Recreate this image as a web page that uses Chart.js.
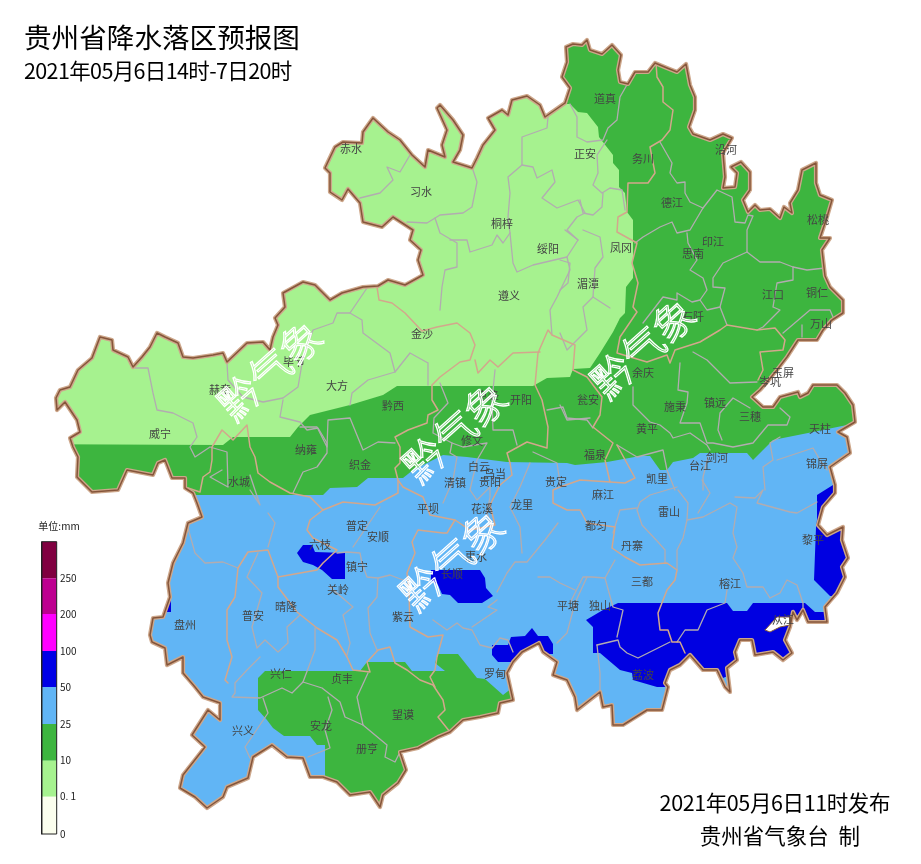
<!DOCTYPE html>
<html><head><meta charset="utf-8"><style>html,body{margin:0;background:#fff}canvas{display:block}</style>
<script src="https://cdn.jsdelivr.net/npm/chart.js@4"></script></head><body><canvas id="c" width="921" height="864"></canvas>
<script>
const provinceOutline=[[565,103],[570,88],[562,77],[567,62],[566,47],[573,44],[582,45],[587,40],[590,50],[602,54],[612,45],[621,55],[618,70],[620,82],[628,84],[635,72],[648,72],[655,63],[667,68],[677,72],[686,64],[690,85],[695,97],[695,110],[689,127],[693,134],[710,140],[723,134],[732,138],[723,153],[725,177],[723,188],[735,187],[737,173],[731,167],[741,162],[750,172],[750,190],[743,200],[748,212],[755,205],[760,210],[770,209],[780,218],[784,207],[792,213],[790,203],[798,190],[802,170],[816,163],[816,183],[820,195],[832,200],[827,217],[820,238],[830,238],[822,250],[825,276],[830,287],[843,300],[843,313],[832,320],[823,330],[817,340],[798,340],[787,357],[777,370],[767,382],[760,390],[752,397],[763,407],[773,407],[780,397],[798,392],[800,397],[808,393],[813,385],[837,385],[845,393],[853,405],[855,422],[838,432],[847,437],[850,453],[830,467],[835,485],[835,493],[823,507],[818,525],[827,535],[843,527],[842,540],[848,558],[842,567],[845,577],[837,593],[825,607],[827,622],[808,622],[803,610],[797,620],[793,612],[790,627],[785,640],[792,653],[783,660],[773,652],[755,655],[752,640],[740,640],[735,652],[737,660],[727,668],[730,692],[725,687],[717,670],[703,670],[690,655],[680,665],[670,670],[665,683],[668,687],[662,710],[647,710],[623,725],[613,725],[612,705],[603,707],[600,692],[577,710],[575,697],[567,680],[553,675],[557,662],[543,652],[539,643],[522,652],[513,662],[507,673],[513,700],[500,703],[498,713],[480,717],[463,720],[450,732],[438,737],[418,748],[400,752],[406,770],[398,783],[383,795],[380,807],[370,792],[350,795],[337,782],[323,777],[310,777],[303,758],[287,757],[272,745],[253,757],[248,778],[227,787],[223,797],[207,808],[195,797],[180,788],[183,775],[205,747],[192,735],[208,710],[220,720],[220,703],[203,697],[195,687],[183,673],[183,657],[167,665],[165,648],[152,642],[150,635],[153,618],[163,617],[170,597],[168,583],[173,563],[183,543],[188,523],[202,517],[197,503],[193,493],[185,488],[185,478],[172,478],[165,460],[158,463],[153,475],[127,470],[118,490],[92,492],[77,477],[78,457],[73,447],[70,438],[80,432],[77,420],[65,402],[57,410],[56,398],[60,390],[70,387],[78,370],[92,358],[100,337],[112,340],[113,350],[128,357],[133,367],[142,357],[150,347],[157,333],[165,337],[178,343],[183,357],[193,358],[213,355],[223,353],[227,362],[247,343],[263,342],[270,350],[273,337],[278,325],[275,318],[285,307],[283,293],[303,282],[315,285],[330,300],[342,293],[363,287],[378,286],[388,280],[405,285],[423,275],[418,260],[421,250],[410,240],[413,230],[393,217],[382,227],[363,222],[360,203],[348,189],[342,200],[330,192],[330,173],[325,168],[335,147],[343,142],[362,143],[363,132],[373,118],[388,132],[400,140],[412,155],[425,167],[428,150],[445,157],[442,145],[447,130],[437,108],[440,105],[453,120],[463,135],[460,150],[453,162],[472,168],[477,158],[483,145],[495,130],[488,118],[502,110],[508,115],[512,100],[527,96],[540,105],[545,117],[565,103]];
const congjiangHole=[[765,630],[777,617],[790,617],[790,625],[780,627],[770,632],[765,630]];
const lightGreenZone=[[20,444],[223,445],[233,437],[290,437],[298,427],[310,415],[350,405],[383,395],[397,386],[533,386],[547,378],[570,377],[573,369],[590,368],[600,353],[613,332],[620,318],[625,313],[626,287],[633,278],[633,220],[627,212],[625,193],[619,187],[619,170],[613,163],[613,155],[599,137],[598,127],[587,113],[578,112],[570,104],[560,104],[500,40],[20,40]];
const blueZone=[[100,495],[323,495],[330,488],[357,487],[368,478],[403,478],[413,470],[443,455],[467,457],[507,462],[567,463],[575,465],[607,462],[640,456],[650,456],[660,470],[667,470],[673,462],[693,458],[700,453],[747,453],[753,460],[763,450],[773,440],[813,432],[847,425],[900,420],[900,860],[100,860]];
const southGreenZone=[[258,678],[265,671],[360,671],[367,662],[405,662],[412,671],[445,671],[435,663],[438,654],[458,654],[477,678],[485,679],[503,695],[512,688],[530,720],[420,830],[325,830],[325,745],[317,745],[310,736],[284,736],[273,728],[267,720],[258,710]];
const heavyZones=[
[[160,595],[171,595],[171,612],[160,612]],
[[297,553],[303,545],[312,545],[315,552],[345,553],[345,579],[332,579],[322,570],[313,565],[303,562]],
[[431,570],[480,570],[485,578],[486,588],[493,596],[482,603],[458,603],[450,595],[442,594],[438,585],[431,580]],
[[492,645],[508,645],[511,637],[525,636],[532,628],[538,636],[548,636],[553,644],[553,654],[543,654],[513,662],[498,662],[492,655]],
[[586,620],[603,610],[618,603],[727,603],[733,611],[747,611],[753,603],[805,603],[815,612],[827,612],[827,640],[800,670],[730,675],[723,678],[673,683],[665,687],[657,687],[633,680],[632,673],[620,670],[600,653],[593,653],[593,627]],
[[833,485],[817,495],[817,520],[816,527],[814,580],[830,596],[860,596],[860,485]]];
const cityBoundaries=[
[[377,287],[379,300],[392,303],[405,313],[422,331],[437,327],[457,323],[470,333],[475,345],[470,360],[460,362],[440,377],[432,385],[432,400],[438,410],[428,415],[427,423],[408,430],[395,437],[400,447],[400,463],[395,468],[398,480],[398,493],[375,505],[343,502],[323,510],[310,520],[307,530],[313,538],[337,550],[323,563],[317,570],[278,577],[268,550],[248,552],[238,568],[235,597],[227,610],[227,640],[232,657],[225,680],[228,683]],
[[278,577],[278,587],[297,612],[317,628],[337,640],[347,657],[353,670],[370,672],[367,662],[378,650],[390,647],[395,663],[407,670],[420,680],[433,685],[443,700],[445,710],[438,717],[450,732]],
[[398,480],[403,487],[423,497],[430,515],[455,520],[447,533],[443,533],[418,530],[412,542],[415,553],[407,573],[409,590],[410,627],[428,637],[443,635],[437,657],[435,670],[430,677],[435,687]],
[[510,463],[507,453],[527,442],[547,448],[548,427],[542,400],[535,385],[538,353],[548,330],[552,335],[575,345],[573,370]],
[[540,352],[513,353],[498,367],[490,360],[478,373],[475,360]],
[[656,63],[657,77],[663,87],[663,102],[673,110],[670,130],[662,140],[650,147],[655,173],[648,183],[628,183],[627,212],[618,217],[617,232],[637,243],[632,263],[638,283],[633,307],[637,312],[620,337],[617,353],[647,362],[667,355],[670,363],[675,350],[700,342],[720,330],[727,325],[757,330],[775,328],[785,340],[783,350],[760,352],[763,370],[758,380]],
[[573,370],[587,377],[602,397],[600,415],[593,427],[613,443],[605,460],[610,482],[580,480],[560,487],[553,490],[553,503],[567,510],[580,510],[587,523],[615,527],[612,548],[625,557],[640,565],[667,563],[677,570],[675,580],[667,590],[658,613],[660,630],[668,630],[672,642],[680,642],[685,653]],
[[610,482],[625,483],[635,478],[617,445]],
[[510,463],[512,475],[500,485],[490,505],[495,525],[470,530],[455,520]],
[[188,488],[200,492],[203,477],[210,472],[212,460],[212,447],[222,430],[233,440],[247,425],[250,447],[255,457],[258,473],[270,482],[290,493],[310,497],[323,510]]];
const countyBoundaries=[
[[135,368],[148,368],[153,393],[157,410],[173,413],[193,423],[197,437],[190,447],[195,457],[210,447],[227,452],[228,487],[210,477],[222,470]],
[[250,475],[260,505],[250,490]],
[[227,363],[228,380],[243,397],[263,402],[283,398],[298,387],[303,358],[313,330],[333,323],[337,313],[350,313],[367,288]],
[[283,400],[280,417],[300,422],[307,430],[318,428],[327,443],[327,453],[317,467],[303,472],[293,493]],
[[300,427],[317,427],[327,447],[328,420],[350,418],[363,450],[378,442],[395,443]],
[[350,405],[352,393],[368,380],[395,372],[410,353],[428,363],[428,385]],
[[395,372],[390,353],[363,333],[362,320],[350,313]],
[[440,383],[448,403],[434,418],[433,433],[452,443],[450,453],[457,457],[453,480],[443,503]],
[[452,443],[463,447],[487,443],[477,460],[473,477],[470,490],[477,500],[490,487],[490,497],[487,513],[493,530]],
[[495,370],[492,400],[493,430],[513,430],[517,445]],
[[547,410],[563,407],[567,418],[587,420],[593,428]],
[[533,452],[557,463],[560,483]],[[530,463],[520,487],[510,507],[520,527],[522,553]],
[[410,155],[400,172],[387,167],[393,180],[380,193],[360,198]],
[[473,170],[477,182],[472,207],[463,213],[440,215],[427,223],[407,222]],
[[435,218],[440,233],[457,243],[457,267],[445,270],[442,287],[440,310]],
[[450,240],[467,240],[470,252],[492,245],[497,235],[503,243],[510,233],[508,217],[510,193],[508,177],[522,165],[522,137],[547,128],[548,117]],
[[510,233],[513,263],[517,272],[533,265],[567,257],[578,240],[567,230],[577,217],[585,213],[578,200],[557,208],[542,198],[555,182],[552,170],[537,178],[533,167],[522,165]],
[[567,257],[570,270],[557,297],[550,310],[552,335]],
[[570,104],[577,117],[577,137],[587,142],[603,140],[608,128],[617,120],[620,97],[628,83]],
[[607,140],[597,155],[598,173],[593,185],[602,193],[610,188],[622,190],[625,210]],
[[603,193],[602,207],[593,215],[583,213],[580,200]],
[[583,230],[600,237],[603,257],[595,268],[593,297],[610,308]],[[593,297],[583,307],[587,330],[567,350],[560,333]],
[[565,230],[578,240]],[[560,260],[570,263],[568,283],[560,290]],
[[660,142],[672,163],[670,173],[677,183],[685,182],[685,193],[690,202],[703,208],[717,190],[732,197],[735,222],[745,223],[748,215],[753,216],[747,230],[747,252],[760,262],[780,262],[793,267],[807,270],[825,268]],
[[703,208],[690,230],[677,233],[672,222],[660,227],[643,237],[635,243]],
[[687,233],[688,243],[697,260],[690,270],[703,278],[707,290],[700,300],[692,302],[677,293],[677,300],[663,297],[643,323]],
[[747,252],[723,263],[713,278],[713,287],[725,288],[720,307],[707,310],[700,300]],
[[793,267],[793,280],[777,283],[773,307],[780,310],[763,327],[757,330]],
[[720,307],[727,325]],[[783,333],[810,310],[830,310],[833,317]],[[802,325],[802,337]],
[[693,352],[707,360],[730,383],[757,382]],
[[680,363],[678,390],[688,392],[687,403],[680,423],[700,423],[707,443],[713,443],[733,447],[753,443],[768,425],[787,425],[790,417],[780,408]],
[[750,408],[733,398],[720,413],[718,430],[722,440]],
[[633,387],[633,405],[650,422],[660,425],[670,433],[673,438],[690,433],[707,445],[710,450]],
[[617,445],[637,457],[663,450],[667,470],[675,490]],[[560,405],[567,420],[590,418]],
[[780,437],[770,443],[773,460],[763,467],[765,490]],[[777,460],[813,448],[820,460],[827,470]],
[[703,490],[703,477],[708,457]],
[[677,487],[650,495],[640,502],[637,510],[642,525],[658,542],[665,550],[665,563]],
[[637,508],[620,510],[613,533]],
[[678,490],[688,503],[687,520],[683,538],[677,550],[677,570]],
[[687,520],[703,517],[730,503],[737,507],[733,533],[737,547],[733,558],[743,573],[747,587],[763,587],[770,598],[780,593],[787,580],[797,585],[803,603],[803,610]],
[[702,480],[710,493],[698,513]],[[735,497],[755,498],[763,490],[757,503],[790,512],[797,513],[817,502]],
[[727,590],[725,603],[707,610],[698,630],[685,630],[677,642]],
[[617,637],[623,610],[613,607],[605,578],[592,577],[583,577],[575,593],[570,603]],[[605,578],[615,560]],
[[597,645],[618,640],[620,647],[627,653],[638,658],[660,647],[670,642]],[[597,645],[600,673],[600,690]],
[[188,528],[195,553],[205,563],[223,562],[238,568]],[[268,513],[275,523],[268,547]],
[[258,553],[247,577],[262,593],[252,627],[257,648],[265,640],[278,652],[288,643],[287,627],[300,615]],
[[260,657],[247,670],[235,683],[235,693],[232,697],[260,698],[282,688],[292,693],[303,682],[315,650],[315,628]],
[[303,682],[322,688],[340,702],[345,717],[363,725],[357,697],[368,673]],
[[328,697],[332,710],[325,730],[330,748],[308,757]],[[263,698],[268,713],[245,747],[250,758]],
[[363,725],[387,745],[385,757],[395,762],[400,752]],
[[353,547],[380,507]],[[337,553],[347,552],[360,553],[362,563],[367,577],[378,578],[390,575],[403,580]],
[[378,578],[377,597],[368,608],[370,633],[377,650]],[[330,587],[353,607],[343,615],[350,643],[347,655]],
[[433,620],[447,630],[457,623],[463,628],[472,630],[480,645],[492,648],[500,638],[508,640],[513,652]],
[[497,592],[507,573],[515,562],[527,562],[545,540],[558,523]],[[497,600],[488,607],[497,610],[472,627]],
[[587,577],[575,603],[567,633],[557,643]],[[538,577],[550,577],[560,583],[575,590]]];
const countyNames=["赤水","习水","桐梓","绥阳","正安","道真","务川","沿河","德江","印江","思南","松桃","凤冈","湄潭","遵义","江口","铜仁","万山","石阡","金沙","毕节","赫章","大方","黔西","开阳","息烽","瓮安","余庆","玉屏","岑巩","施秉","镇远","三穗","黄平","天柱","福泉","修文","威宁","纳雍","织金","水城","白云","乌当","贵阳","清镇","贵定","麻江","凯里","台江","剑河","锦屏","平坝","龙里","花溪","雷山","都匀","普定","安顺","六枝","镇宁","惠水","丹寨","黎平","长顺","关岭","三都","榕江","晴隆","普安","紫云","平塘","独山","从江","盘州","兴仁","贞丰","罗甸","望谟","荔波","安龙","兴义","册亨"];
const countySites=[[351,149],[421,192],[502,224],[548,249],[585,154],[605,99],[643,159],[726,150],[672,203],[713,242],[693,254],[818,220],[621,248],[588,284],[509,296],[773,295],[817,293],[821,324],[693,317],[422,334],[294,362],[220,390],[337,386],[393,406],[521,400],[488,396],[588,400],[643,373],[783,373],[770,382],[675,407],[715,403],[750,417],[647,429],[820,429],[595,455],[472,441],[160,434],[306,450],[360,465],[239,482],[479,467],[495,474],[490,482],[455,483],[556,482],[603,495],[657,479],[700,466],[717,458],[817,464],[428,509],[522,505],[482,509],[669,512],[596,526],[357,526],[378,537],[320,545],[357,567],[476,557],[632,546],[813,540],[452,574],[338,590],[642,582],[730,584],[286,607],[253,616],[403,617],[568,606],[600,606],[783,620],[185,625],[281,674],[342,679],[495,674],[403,715],[643,675],[321,726],[243,731],[367,749]];
const watermarkText="黔气象";
const watermarkCentres=[[270,370],[643,348],[455,432],[452,560]];
const legendLabels=["0","0. 1","10","25","50","100","200","250"];
const legendEdges=[834,796.7,760.7,724,687,651,614,578.3,541.7];
const legendColours=["#fbfeee","#a6f28f","#3db53f","#61b5f5","#0000e6","#ff00ff","#bd0090","#800040"];
const titleLines=[["贵州省降水落区预报图",24,38,27.6,"left",0],["2021年05月6日14时-7日20时",24,71,21.5,"left",-0.63],["2021年05月6日11时发布",890,803,21.5,"right",-0.4],["贵州省气象台  制",860,836,21.5,"right",0]];

const pts=a=>a.map(([x,y])=>({x,y}));
const poly=(a,color)=>({data:pts(a),showLine:true,fill:'shape',backgroundColor:color,borderWidth:0,borderColor:color,pointRadius:0,tension:0});
const stroke=(a,color,w)=>({data:pts(a),showLine:true,fill:false,borderColor:color,borderWidth:w,pointRadius:0,tension:0,borderJoinStyle:'round',borderCapStyle:'round'});
const legendBoxes=legendColours.map((c,i)=>[[41.7,legendEdges[i]],[56.7,legendEdges[i]],[56.7,legendEdges[i+1]],[41.7,legendEdges[i+1]],[41.7,legendEdges[i]]]);
const frame=[[41.7,834],[56.7,834],[56.7,541.7],[41.7,541.7],[41.7,834]];
// Chart.js paints the last dataset first, so this list runs from top layer to bottom layer.
const datasets=[
 stroke(frame,'#222222',1),
 ...legendBoxes.map((b,i)=>poly(b,legendColours[i])),
 stroke(congjiangHole,'#8a5c3e',1),
 poly(congjiangHole,'#ffffff'),
 stroke(provinceOutline,'#85553a',1.5),
 stroke(provinceOutline,'#cda78b',4.2),
 ...cityBoundaries.map(l=>stroke(l,'#d3a78c',1.5)),
 ...countyBoundaries.map(l=>stroke(l,'#b2acb0',1.3)),
 ...heavyZones.map(z=>poly(z,'#0000e1')),
 poly(southGreenZone,'#3db53f'),
 poly(blueZone,'#61b5f5'),
 poly(lightGreenZone,'#a6f28f'),
 poly(provinceOutline,'#3db53f')
];
const lastZone=datasets.length-1, firstZone=lastZone-3-heavyZones.length;
const mapClip={id:'mapClip',
 beforeDatasetsDraw(ch){const {ctx,scales:{x,y}}=ch;ctx.save();ctx.beginPath();
  provinceOutline.forEach(([a,b],i)=>{const px=x.getPixelForValue(a),py=y.getPixelForValue(b);i?ctx.lineTo(px,py):ctx.moveTo(px,py)});ctx.closePath();ctx.clip();},
 afterDatasetDraw(ch,args){if(args.index===firstZone)ch.ctx.restore();},
 afterDatasetsDraw(ch){const {ctx,scales:{x,y}}=ch;ctx.save();ctx.textBaseline='middle';
  const sans='"Noto Sans CJK SC"';
  ctx.font='11px '+sans;ctx.fillStyle='#444444';ctx.textAlign='center';
  countyNames.forEach((n,i)=>ctx.fillText(n,x.getPixelForValue(countySites[i][0]),y.getPixelForValue(countySites[i][1])));
  ctx.font='300 41px '+sans;
  watermarkCentres.forEach(([a,b])=>{ctx.save();ctx.translate(x.getPixelForValue(a),y.getPixelForValue(b));ctx.rotate(-42*Math.PI/180);
    ctx.lineWidth=1.3;ctx.strokeStyle='#fff';ctx.strokeText(watermarkText,0,0);ctx.restore();});
  ctx.fillStyle='#000';
  titleLines.forEach(([t,a,b,s,al,sp])=>{ctx.font=s+'px '+sans;ctx.letterSpacing=sp+'px';ctx.textAlign=al;ctx.fillText(t,x.getPixelForValue(a),y.getPixelForValue(b));});
  ctx.letterSpacing='0px';
  ctx.font='10px '+sans;ctx.textAlign='left';ctx.fillStyle='#222';
  legendLabels.forEach((t,i)=>ctx.fillText(t,x.getPixelForValue(60),y.getPixelForValue(legendEdges[i])));
  ctx.textAlign='center';ctx.fillText('单位:mm',x.getPixelForValue(59),y.getPixelForValue(526));
  ctx.restore();}};
new Chart(document.getElementById('c'),{type:'scatter',data:{datasets},plugins:[mapClip],
 options:{responsive:false,animation:false,layout:{padding:0},events:[],
  plugins:{legend:{display:false},tooltip:{enabled:false},title:{display:false}},
  scales:{x:{type:'linear',min:0,max:921,display:false},y:{type:'linear',min:0,max:864,reverse:true,display:false}}}});
</script></body></html>
